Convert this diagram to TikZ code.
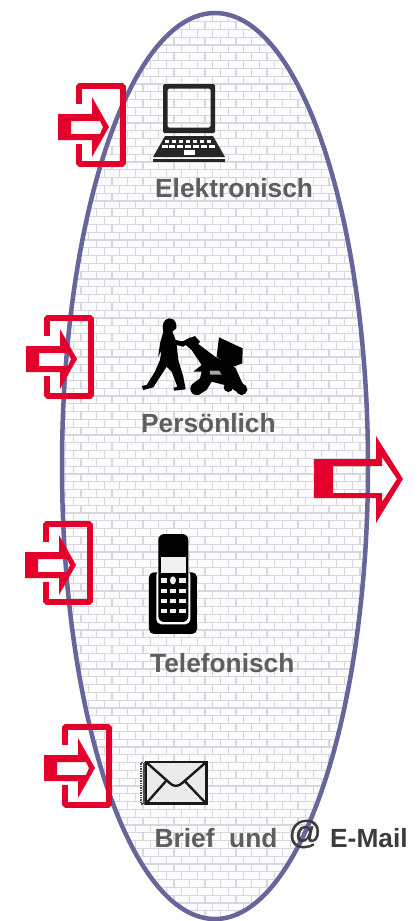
\documentclass[tikz,border=0pt]{standalone}
\usepackage{fontspec}
\setmainfont{Liberation Sans}
\definecolor{lilac}{HTML}{66669A}
\definecolor{signal}{HTML}{E4002B}
\definecolor{labelgray}{HTML}{5E5E5E}
\definecolor{mailgray}{HTML}{3C3C3C}
\definecolor{brickface}{HTML}{FCFCFE}
\definecolor{mortar}{HTML}{D8D8DC}
\tikzset{
  labeltext/.style={anchor=west,inner sep=0pt,text=labelgray,font=\fontsize{26.3}{27}\selectfont\bfseries},
  redfill/.style={fill=signal,draw=none,even odd rule},
  icon/.style={fill=black,draw=none},
  door/.pic={
    \draw[signal,line width=5.8pt,line join=bevel] (79,104) -- (79,86) -- (123,86) -- (123,164) -- (79,164) -- (79,144);
    \fill[redfill] (58,114) -- (92,114) -- (92,97) -- (109,127) -- (92,157) -- (92,140) -- (58,140) -- cycle
      (71,121) -- (100,121) -- (103,127) -- (100,134) -- (71,134) -- cycle;
  }
}
\begin{document}
\begin{tikzpicture}[x=1pt,y=-1pt]
\useasboundingbox (0,0) rectangle (418,921);
\fill[white] (0,0) rectangle (418,921);
% brick wall inside the ellipse
\begin{scope}
  \clip (215,466) ellipse [x radius=153,y radius=453];
  \fill[brickface] (50,0) rectangle (380,921);
  \draw[mortar,line width=1.3pt]
    \foreach \r in {0,...,117} { (50,{6+7.8*\r}) -- (380,{6+7.8*\r}) };
  \draw[mortar,line width=1.3pt]
    \foreach \r in {0,...,117} {
      \foreach \c in {0,...,21} {
        ({50+15.5*\c+mod(\r,2)*7.75},{6+7.8*\r}) -- ++(0,7.8)
      }
    };
\end{scope}
\draw[lilac,line width=4.5pt] (215,466) ellipse [x radius=153,y radius=453];

% laptop
\begin{scope}
  \fill[black!85,even odd rule,rounded corners=1.5pt] (163,84) rectangle (215,133) (167.5,88.5) rectangle (210.5,127.5);
  \fill[black!85] (165,136) -- (213,136) -- (225,157) -- (153,157) -- cycle;
  \fill[black!85] (153,158.5) rectangle (225,162);
  \foreach \kx in {167,174,181,188,195,202,209} \fill[white] (\kx-2.3,139.5) rectangle (\kx+2.3,142.5);
  \foreach \kx in {165,172,180,188,196,204,212} \fill[white] (\kx-2.8,144.5) rectangle (\kx+2.8,147.5);
  \fill[white] (184,149.5) rectangle (195,155);
\end{scope}

% person with pram
\begin{scope}[shift={(15,300)},x=0.3333pt,y=-0.3333pt]
  \fill[icon] (462,55) .. controls (480,55) and (486,70) .. (484,85) -- (472,95) -- (482,120) -- (505,125) -- (525,112) -- (535,120) -- (505,140) -- (485,135) -- (490,180) -- (505,230) -- (512,268) -- (478,272) -- (475,264) -- (487,260) -- (470,215) -- (455,200) -- (415,262) -- (385,270) -- (380,258) -- (395,255) -- (420,215) -- (435,180) -- (440,150) -- (430,170) -- (435,130) -- (445,95) .. controls (440,75) and (445,58) .. (462,55) -- cycle;
  \fill[icon] (612,112) -- (683,145) -- (682,190) -- (650,202) -- (605,170) -- cycle;
  \fill[icon] (500,125) -- (540,108) -- (555,125) -- (550,132) -- (600,170) -- (650,195) -- (662,205) -- (680,245) -- (697,270) -- (680,285) -- (660,272) -- (640,258) -- (590,245) -- (575,270) -- (550,285) -- (528,270) -- (535,250) -- (555,235) -- (560,215) -- (535,215) -- (560,195) -- (530,150) -- cycle;
  \fill[icon] (545,266) circle [radius=19];
  \fill[icon] (680,268) circle [radius=17];
  \fill[icon] (640,262) circle [radius=14];
  \fill[black!35] (585,212) -- (612,212) -- (620,224) -- (585,224) -- cycle;
\end{scope}

% telephone
\begin{scope}[shift={(15,510)},x=0.3333pt,y=-0.3333pt]
  \fill[icon,rounded corners=5pt] (402,187) rectangle (546,372);
  \fill[white,rounded corners=5pt] (424,180) rectangle (526,343);
  \fill[icon,rounded corners=6pt] (430,72) rectangle (520,336);
  \fill[black!6] (438,140) rectangle (512,190);
  \foreach \ky/\kh in {205/15,237/13,266/12,296/12} {
    \foreach \kx in {437,464,492} \fill[black!6] (\kx,\ky) rectangle (\kx+20,\ky+\kh);
  }
  \fill[icon] (462,199) rectangle (486,226);
  \fill[black!6] (474,211) ellipse [x radius=9,y radius=12];
\end{scope}

% envelope
\begin{scope}[shift={(30,715)},x=0.3333pt,y=-0.3333pt]
  \draw[black!70,line width=1.4pt,densely dotted] (345,143) -- (333,143) -- (333,267) -- (345,267);
  \fill[black!70] (338,143) rectangle (345,267);
  \draw[black!90,fill=black!8,line width=2.4pt] (348,141) rectangle (529,266);
  \draw[black!90,line width=2.4pt] (348,141) -- (418,203) .. controls (430,216) and (445,216) .. (458,203) -- (529,141);
  \draw[black!90,line width=2.4pt] (348,266) -- (408,198);
  \draw[black!90,line width=2.4pt] (529,266) -- (464,198);
\end{scope}

% doors with incoming arrows
\pic at (0,0) {door};
\pic at (-32,232) {door};
\pic at (-33,438) {door};
\pic at (-14,641) {door};

% outgoing arrow
\fill[redfill] (314,459) -- (376,459) -- (376,436) -- (403,479) -- (376,523) -- (376,498) -- (314,498) -- cycle
  (333,466) -- (382,466) -- (382,457) -- (397,479) -- (382,502) -- (382,493) -- (333,493) -- cycle;

% labels
\node[labeltext] (elektronisch) at (155,188) {Elektronisch};
\node[labeltext] (persoenlich) at (141,423) {Persönlich};
\node[labeltext] (telefonisch) at (150,663) {Telefonisch};
\node[labeltext] (brief) at (154.5,838) {Brief\ \ und};
\node[anchor=center,inner sep=0pt,text=mailgray,font=\fontsize{33}{33}\selectfont\addfontfeature{FakeBold=1}] (at) at (305,834) {@};
\node[labeltext,text=mailgray] (email) at (330,838) {E-Mail};
\end{tikzpicture}
\end{document}
